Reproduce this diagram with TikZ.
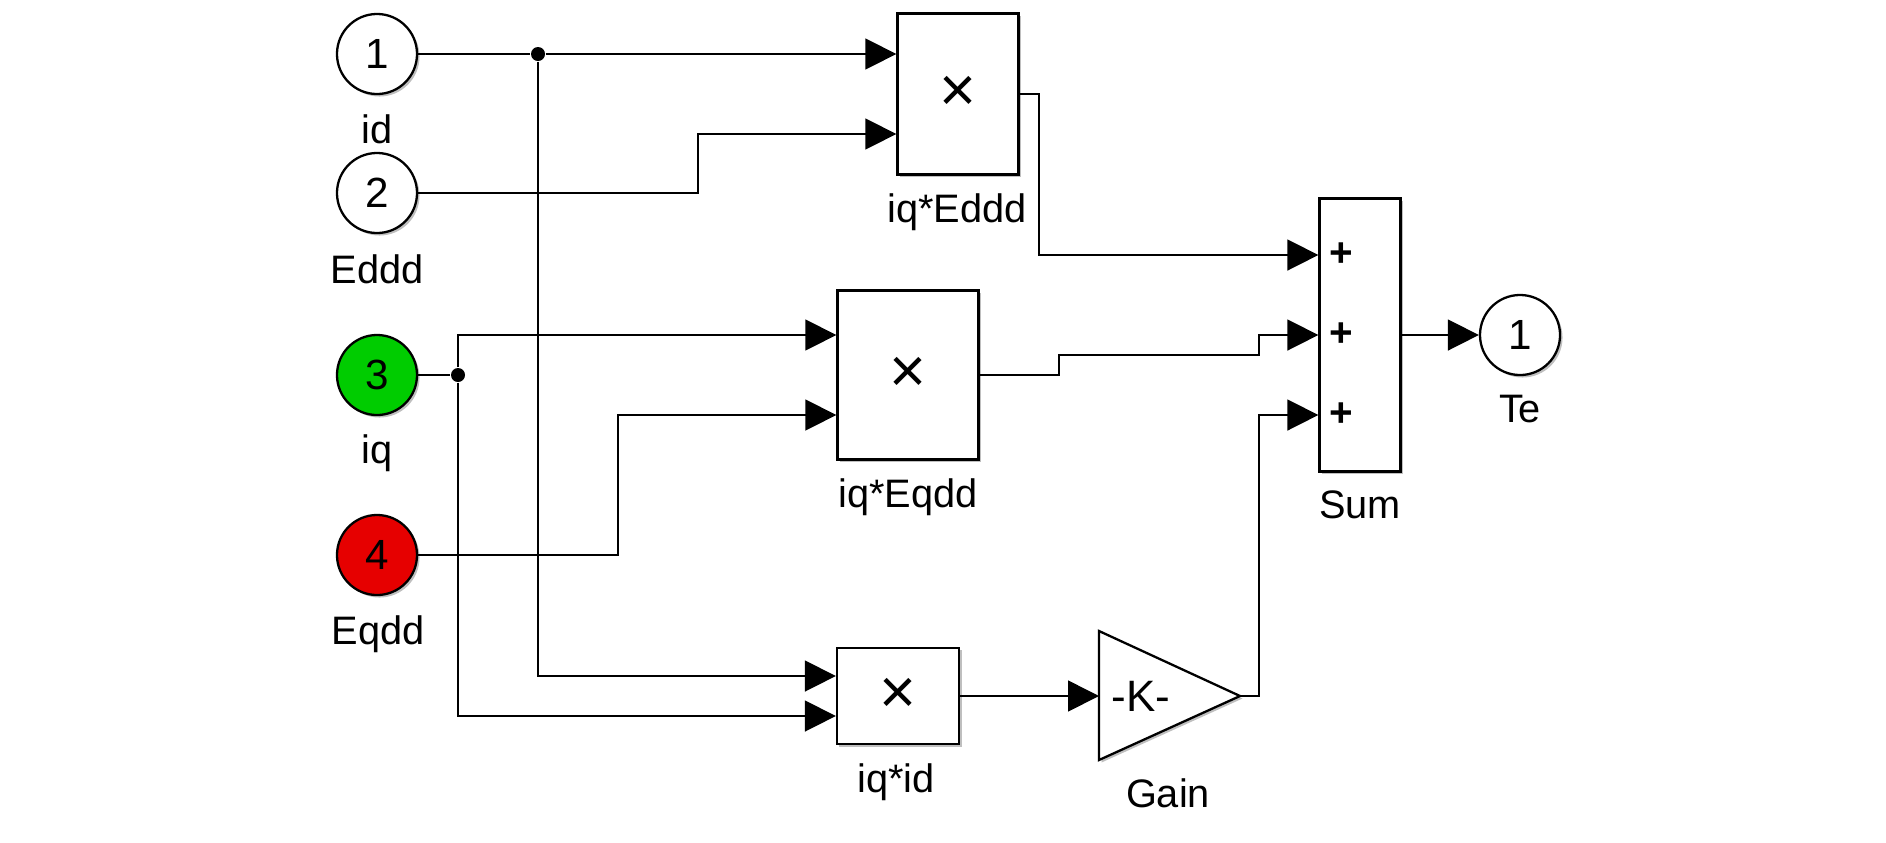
\documentclass[tikz,border=0pt]{standalone}
\usepackage{fontspec}
\setmainfont{Liberation Sans}
\usetikzlibrary{arrows.meta,shadows}
\definecolor{portgreen}{RGB}{0,204,0}
\definecolor{portred}{RGB}{230,0,0}
\begin{document}
\begin{tikzpicture}[x=0.01cm,y=-0.01cm,
	wire/.style={line width=0.45pt},
	sig/.style={wire, -{Triangle[length=0.31cm,width=0.31cm]}},
	shade/.style={drop shadow={shadow xshift=0.025cm, shadow yshift=-0.025cm, fill=black, opacity=0.25}},
	port/.style={shape=circle, draw, line width=0.65pt, minimum size=0.8cm, inner sep=0pt, fill=white, shade, font=\fontsize{12}{14}\selectfont},
	block/.style={shape=rectangle, draw, line width=0.65pt, inner sep=0pt, fill=white, shade, font=\fontsize{18}{20}\selectfont},
	plus/.style={font=\fontsize{11.5}{13}\selectfont\bfseries, inner sep=0pt},
	lbl/.style={anchor=base, font=\fontsize{11.3}{13}\selectfont},
	dot/.style={shape=circle, fill, minimum size=0.14cm, inner sep=0pt}]
	
	\useasboundingbox (0,0) rectangle (1886,842);
	
	\node[port] (in1) at (377,54) {1};
	\node[port] (in2) at (377,193) {2};
	\node[port, fill=portgreen] (in3) at (377,375) {3};
	\node[port, fill=portred] (in4) at (377,555) {4};
	\node[port] (out1) at (1520,335) {1};
	
	\node[block, minimum width=1.21cm, minimum height=1.61cm] (prodA) at (958,94) {×};
	\node[block, minimum width=1.41cm, minimum height=1.69cm] (prodB) at (908,375) {×};
	\node[block, minimum width=1.22cm, minimum height=0.96cm] (prodC) at (898,696) {×};
	\node[block, minimum width=0.81cm, minimum height=2.73cm] (sum) at (1360,335) {};
	\node[plus] (sumA) at (1341,255) {+};
	\node[plus] (sumB) at (1341,335) {+};
	\node[plus] (sumC) at (1341,415) {+};
	
	\coordinate (gainin) at (1099,696);
	\coordinate (gainout) at (1240,696);
	\draw[line width=0.65pt, fill=white, shade] (1099,631) -- (gainout) -- (1099,760) -- cycle;
	\node[font=\fontsize{12.5}{14}\selectfont] (gainK) at (1141,696) {-K-};
	
	\node[dot] (jd) at (538,54) {};
	\node[dot] (jq) at (458,375) {};
	
	\draw[wire] (in1) -- (jd);
	\draw[sig] (jd) -- (prodA.west |- jd);
	\draw[sig] (jd) |- (prodC.west |- 0,676);
	\draw[sig] (in2.east) -| (698,134) -- (prodA.west |- 0,134);
	\draw[wire] (in3) -- (jq);
	\draw[sig] (jq) |- (prodB.west |- 0,335);
	\draw[sig] (jq) |- (prodC.west |- 0,716);
	\draw[sig] (in4.east) -| (618,415) -- (prodB.west |- 0,415);
	\draw[sig] (prodA.east) -| (1039,255) -- (sum.west |- 0,255);
	\draw[sig] (prodB.east) -| (1059,355) -| (1259,335) -- (sum.west |- 0,335);
	\draw[sig] (prodC.east) -- (gainin);
	\draw[sig] (gainout) -| (1259,415) -- (sum.west |- 0,415);
	\draw[sig] (sum.east) -- (out1.west);
	
	\node[lbl] (lin1) at (377,143) {id};
	\node[lbl] (lin2) at (377,283) {Eddd};
	\node[lbl] (lin3) at (377,463) {iq};
	\node[lbl] (lin4) at (378,644) {Eqdd};
	\node[lbl] (lprodA) at (957,222) {iq*Eddd};
	\node[lbl] (lprodB) at (908,507) {iq*Eqdd};
	\node[lbl] (lprodC) at (896,792) {iq*id};
	\node[lbl] (lgain) at (1168,807) {Gain};
	\node[lbl] (lsum) at (1360,518) {Sum};
	\node[lbl] (lout1) at (1520,422) {Te};
\end{tikzpicture}
\end{document}
